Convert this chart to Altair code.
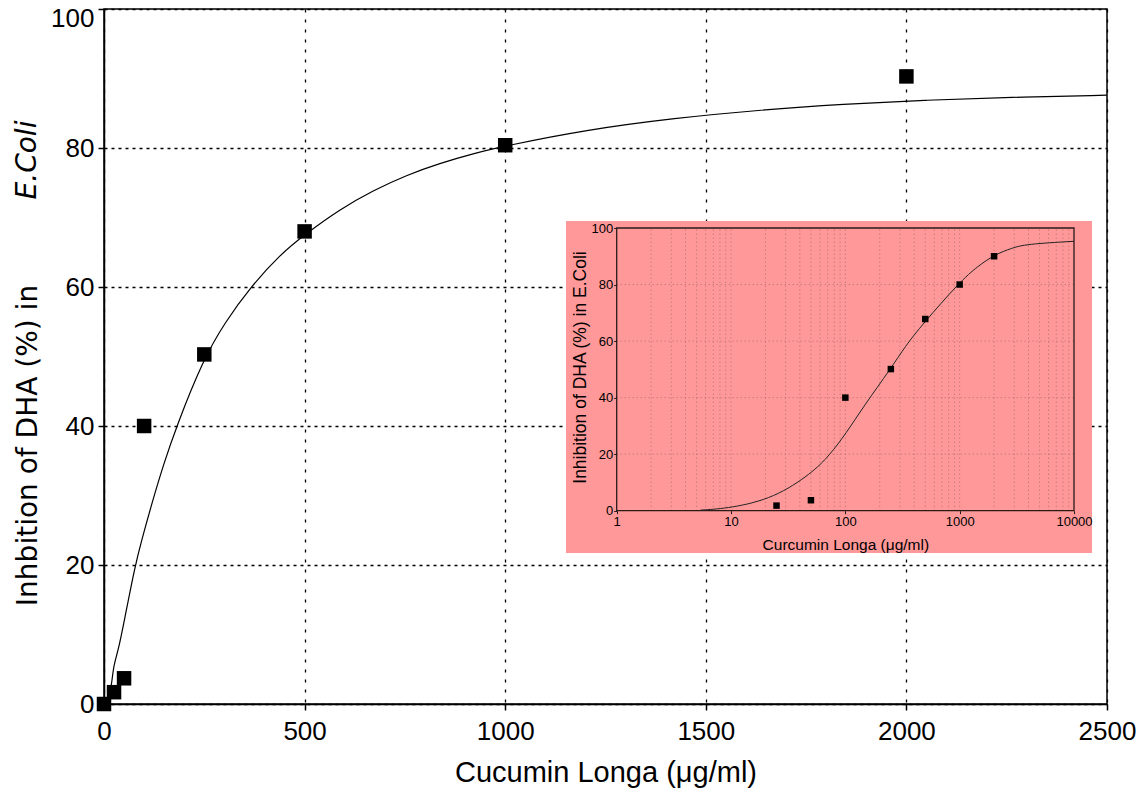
import altair as alt
import pandas as pd

# ---------------- main chart data ----------------
conc = [0, 25, 50, 100, 250, 500, 1000, 2000]
inhib = [0.0, 1.7, 3.7, 40.0, 50.3, 68.0, 80.4, 90.3]

fit_x = [0, 10, 19, 23, 36, 50, 77, 94, 120, 148, 181, 247, 300, 368, 440, 497,
         588, 671, 754, 837, 921, 1000, 1200, 1423, 1640, 1842, 2050, 2258, 2500]
fit_y = [0.0, 1.0, 2.5, 5.4, 7.8, 11.8, 19.8, 23.6, 29.0, 34.4, 40.0, 49.5, 54.8, 60.2, 64.7, 67.4,
         71.2, 73.9, 76.1, 77.8, 79.2, 80.3, 82.6, 84.3, 85.5, 86.3, 86.9, 87.3, 87.6]

main_xticks = [0, 500, 1000, 1500, 2000, 2500]
main_yticks = [0, 20, 40, 60, 80, 100]

# ---------------- inset data ----------------
in_conc = [25, 50, 100, 250, 500, 1000, 2000]
in_inhib = [1.8, 3.7, 40.0, 50.1, 67.8, 80.0, 90.0]

in_fit_x = [5.4, 10, 24, 51, 72.4, 102, 145, 252, 333, 470, 1011, 1432, 2028, 2866, 3784, 10000]
in_fit_y = [0.2, 0.9, 4.5, 13.3, 19.5, 27.5, 37.0, 50.5, 58.1, 65.8, 81.1, 86.4, 90.6, 92.9, 94.3, 95.3]

in_xticks = [1, 10, 100, 1000, 10000]
in_yticks = [0, 20, 40, 60, 80, 100]
in_xgrid = [2, 3, 4, 5, 6, 7, 8, 9, 10, 20, 30, 40, 50, 60, 70, 80, 90,
            100, 200, 300, 400, 500, 600, 700, 800, 900,
            1000, 2000, 3000, 4000, 5000, 6000, 7000, 8000, 9000]
in_ygrid = [20, 40, 60, 80]

LAB = "Liberation Sans"
TITLEFONT = "DejaVu Sans"
W, H = 1003, 695

# ---------------- main scales / axes ----------------
main_x = alt.Scale(domain=[0, 2500], nice=False, zero=False)
main_y = alt.Scale(domain=[0, 100], nice=False)

x_axis = alt.Axis(values=main_xticks, format="d", grid=True, gridColor="black", gridDash=[3, 7],
                  gridWidth=1.3, tickColor="black", tickSize=6, tickWidth=1.5, domainColor="black",
                  domainWidth=1.5, labelFont=LAB, labelFontSize=26, labelColor="black", labelPadding=8,
                  labelFlush=False, title="Cucumin Longa (μg/ml)", titleFont=LAB, titleFontSize=29,
                  titleFontWeight="normal", titleColor="black", titleY=54, titleBaseline="top")
y_axis = alt.Axis(values=main_yticks, grid=True, gridColor="black", gridDash=[3, 4], gridWidth=1.3,
                  tickColor="black", tickSize=6, tickWidth=1.5, domainColor="black", domainWidth=1.5,
                  labelFont=LAB, labelFontSize=26, labelColor="black", labelPadding=4,
                  labelOffset={"condition": {"test": "datum.value == 100", "value": 9.5}, "value": 0},
                  title="Inhbition of DHA (%) in", titleFont=TITLEFONT, titleFontSize=28,
                  titleFontWeight="normal", titleColor="black", titleAngle=270, titleX=-76, titleY=436,
                  titleAlign="center", titleBaseline="middle")

df_pts = pd.DataFrame({"x": conc, "y": inhib})
df_fit = pd.DataFrame({"x": fit_x, "y": fit_y})

fit = alt.Chart(df_fit).mark_line(color="black", strokeWidth=1.2, interpolate="basis").encode(
    x=alt.X("x:Q", scale=main_x, axis=x_axis),
    y=alt.Y("y:Q", scale=main_y, axis=y_axis),
)
pts = alt.Chart(df_pts).mark_square(size=210, color="black", opacity=1).encode(
    x=alt.X("x:Q", scale=main_x, axis=x_axis),
    y=alt.Y("y:Q", scale=main_y, axis=y_axis),
)
ecoli = alt.Chart(pd.DataFrame({"t": ["E.Coli"]})).mark_text(
    font=TITLEFONT, fontSize=28, fontStyle="italic", angle=270, align="center", baseline="middle",
    color="black").encode(x=alt.value(-76), y=alt.value(151), text="t:N")

main = alt.layer(fit, pts, ecoli)

# ---------------- inset scales / axes ----------------
in_x = alt.Scale(type="log", domain=[1, 10000], range=[512.7, 970], nice=False)
in_y = alt.Scale(domain=[0, 100], range=[501.7, 219], nice=False)
AXC = "#2a1a1a"
in_x_axis = alt.Axis(values=in_xticks, format="d", orient="bottom", offset=-(H - 501.7), grid=False,
                     domain=False, ticks=True, tickSize=3, tickColor=AXC, labelFont=LAB, labelFontSize=13,
                     labelColor="black", labelPadding=2, labelFlush=False, labelOverlap=False,
                     title="Curcumin Longa (μg/ml)", titleFont=LAB, titleFontSize=15.5,
                     titleFontWeight="normal", titleColor="black", titleY=34, titleBaseline="middle", zindex=1)
in_y_axis = alt.Axis(values=in_yticks, orient="left", offset=-512.7, grid=False, domain=False, ticks=True,
                     tickSize=3, tickColor=AXC, labelFont=LAB, labelFontSize=13, labelColor="black",
                     labelPadding=1, title="Inhibition of DHA (%) in E.Coli", titleFont=LAB,
                     titleFontSize=17.5, titleFontWeight="normal", titleColor="black", titleAngle=270,
                     titleX=-36, titleY=358, titleAlign="center", titleBaseline="middle", zindex=1)

one = pd.DataFrame({"k": [0]})

bg = alt.Chart(one).mark_rect(color="#FF9999").encode(
    x=alt.value(462), x2=alt.value(988), y=alt.value(212), y2=alt.value(544))

vgrid = alt.Chart(pd.DataFrame({"v": in_xgrid})).mark_rule(
    color="#b06a6a", strokeDash=[1, 3], strokeWidth=1).encode(
    x=alt.X("v:Q", scale=in_x, axis=in_x_axis),
    y=alt.YDatum(0, scale=in_y, axis=in_y_axis),
    y2=alt.Y2Datum(100),
)
hgrid = alt.Chart(pd.DataFrame({"v": in_ygrid})).mark_rule(
    color="#b06a6a", strokeDash=[1, 3], strokeWidth=1).encode(
    y=alt.Y("v:Q", scale=in_y, axis=in_y_axis),
    x=alt.XDatum(1, scale=in_x, axis=in_x_axis),
    x2=alt.X2Datum(10000),
)
frame = alt.Chart(one).mark_rect(fillOpacity=0, stroke=AXC, strokeWidth=1.3).encode(
    x=alt.XDatum(1, scale=in_x, axis=in_x_axis),
    x2=alt.X2Datum(10000),
    y=alt.YDatum(0, scale=in_y, axis=in_y_axis),
    y2=alt.Y2Datum(100),
)
in_fit = alt.Chart(pd.DataFrame({"x": in_fit_x, "y": in_fit_y})).mark_line(
    color="#222", strokeWidth=1, interpolate="basis").encode(
    x=alt.X("x:Q", scale=in_x, axis=in_x_axis),
    y=alt.Y("y:Q", scale=in_y, axis=in_y_axis),
)
in_pts = alt.Chart(pd.DataFrame({"x": in_conc, "y": in_inhib})).mark_square(
    size=42, color="black", opacity=1).encode(
    x=alt.X("x:Q", scale=in_x, axis=in_x_axis),
    y=alt.Y("y:Q", scale=in_y, axis=in_y_axis),
)

inset = alt.layer(bg, vgrid, hgrid, frame, in_fit, in_pts)

chart = alt.layer(main, inset).resolve_scale(x="independent", y="independent").properties(
    width=W, height=H,
    autosize=alt.AutoSizeParams(type="none"),
    padding={"left": 96, "top": 1, "right": 32, "bottom": 85},
    background="white",
).configure_view(stroke="black", strokeWidth=1.5)

chart.save("out.html", embed_options={"renderer": "svg", "actions": False})
